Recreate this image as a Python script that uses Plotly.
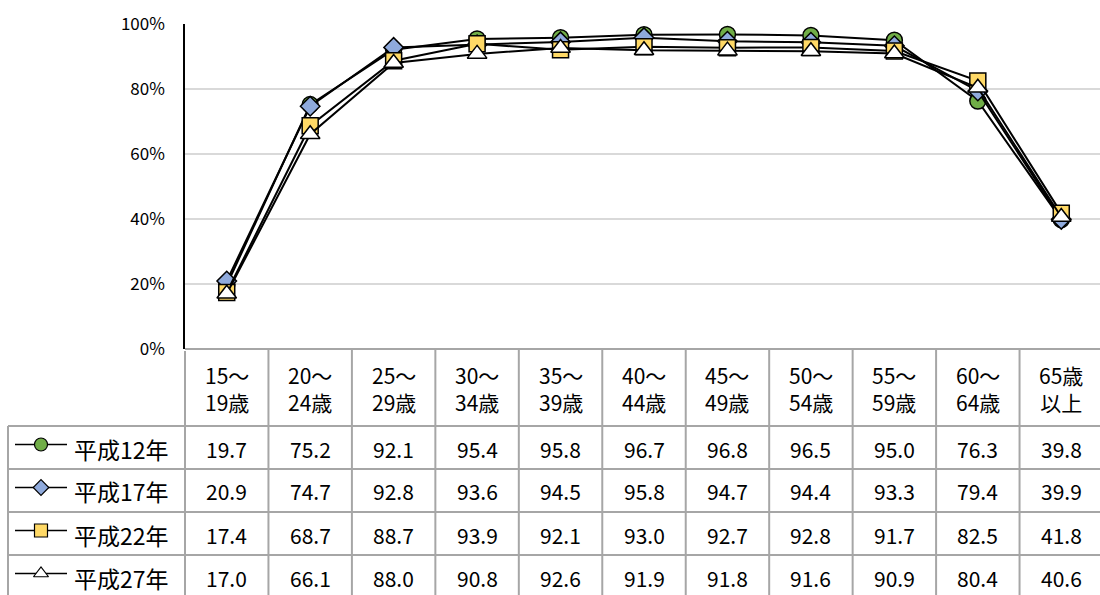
import plotly.graph_objects as go

# ---- data ----
categories = ["15～<br>19歳", "20～<br>24歳", "25～<br>29歳", "30～<br>34歳", "35～<br>39歳",
              "40～<br>44歳", "45～<br>49歳", "50～<br>54歳", "55～<br>59歳", "60～<br>64歳",
              "65歳<br>以上"]
series_names = ["平成12年", "平成17年", "平成22年", "平成27年"]
h12 = [19.7, 75.2, 92.1, 95.4, 95.8, 96.7, 96.8, 96.5, 95.0, 76.3, 39.8]
h17 = [20.9, 74.7, 92.8, 93.6, 94.5, 95.8, 94.7, 94.4, 93.3, 79.4, 39.9]
h22 = [17.4, 68.7, 88.7, 93.9, 92.1, 93.0, 92.7, 92.8, 91.7, 82.5, 41.8]
h27 = [17.0, 66.1, 88.0, 90.8, 92.6, 91.9, 91.8, 91.6, 90.9, 80.4, 40.6]
y_ticks = [0, 20, 40, 60, 80, 100]
y_ticktext = ["0%", "20%", "40%", "60%", "80%", "100%"]

series = [h12, h17, h22, h27]
symbols = ["circle", "diamond", "square", "triangle-up"]
fills = ["#70AD47", "#8FAADC", "#FFD966", "#FFFFFF"]
msizes = [16, 15, 16, 17]

W, H = 1100, 595
FONT = "Noto Sans CJK JP"
PLOT_L, PLOT_R = 185.0, 1103.0
PLOT_T, PLOT_B = 24.0, 349.0
COLW = (PLOT_R - PLOT_L) / len(categories)
ROW_TOP = 426.0
ROW_H = 43.0
TABLE_L = 8.0
GRAY = "#A6A6A6"


def px(x):
    return x / W


def py(y):
    return 1 - y / H


fig = go.Figure()

# main lines
for name, vals, sym, fc, ms in zip(series_names, series, symbols, fills, msizes):
    fig.add_trace(go.Scatter(
        x=list(range(len(categories))), y=vals, name=name, mode="lines+markers",
        line=dict(color="black", width=2),
        marker=dict(symbol=sym, size=ms, color=fc, line=dict(color="black", width=1.5)),
        cliponaxis=False, showlegend=False,
    ))

# legend icons in table (pixel overlay axes)
for r, (name, sym, fc) in enumerate(zip(series_names, symbols, fills)):
    yc = ROW_TOP + ROW_H * r + ROW_H / 2 - 3
    fig.add_trace(go.Scatter(
        x=[15, 67], y=[yc, yc], mode="lines", line=dict(color="black", width=1.5),
        xaxis="x2", yaxis="y2", showlegend=False, hoverinfo="skip"))
    fig.add_trace(go.Scatter(
        x=[41], y=[yc], mode="markers",
        marker=dict(symbol=sym, size=13 if sym != "diamond" else 12, color=fc,
                    line=dict(color="black", width=1.2)),
        xaxis="x2", yaxis="y2", showlegend=False, hoverinfo="skip"))
    fig.add_annotation(x=px(72), y=py(ROW_TOP + ROW_H * r + ROW_H / 2 + 1), xref="paper", yref="paper",
                       text=name, showarrow=False, xanchor="left", yanchor="middle",
                       font=dict(family=FONT, size=23, color="black"))

shapes = []
# horizontal table lines
shapes.append(dict(type="line", xref="paper", yref="paper", x0=px(PLOT_L), x1=px(PLOT_R),
                   y0=py(PLOT_B), y1=py(PLOT_B), line=dict(color=GRAY, width=2)))
for r in range(len(series) + 1):
    yy = ROW_TOP + ROW_H * r
    shapes.append(dict(type="line", xref="paper", yref="paper", x0=px(TABLE_L), x1=px(PLOT_R),
                       y0=py(yy), y1=py(yy), line=dict(color=GRAY, width=2)))
# vertical lines
shapes.append(dict(type="line", xref="paper", yref="paper", x0=px(TABLE_L), x1=px(TABLE_L),
                   y0=py(ROW_TOP), y1=py(H + 5), line=dict(color=GRAY, width=2)))
for c in range(len(categories) + 1):
    xx = PLOT_L + COLW * c
    shapes.append(dict(type="line", xref="paper", yref="paper", x0=px(xx), x1=px(xx),
                       y0=py(PLOT_B if c > 0 else PLOT_B + 2), y1=py(H + 5),
                       line=dict(color=GRAY, width=2)))
fig.update_layout(shapes=shapes)

# header text
for i, cat in enumerate(categories):
    fig.add_annotation(x=i, y=py((PLOT_B + ROW_TOP) / 2 + 1), xref="x", yref="paper", text=cat,
                       showarrow=False, xanchor="center", yanchor="middle",
                       font=dict(family=FONT, size=21, color="black"))
# values
for r, vals in enumerate(series):
    for i, v in enumerate(vals):
        fig.add_annotation(x=i, y=py(ROW_TOP + ROW_H * r + ROW_H / 2 + 1), xref="x", yref="paper",
                           text=f"{v:.1f}", showarrow=False, xanchor="center", yanchor="middle",
                           font=dict(family=FONT, size=21, color="black"))

fig.update_layout(
    width=W, height=H, margin=dict(l=0, r=0, t=0, b=0, autoexpand=False), autosize=False,
    paper_bgcolor="white", plot_bgcolor="rgba(0,0,0,0)", showlegend=False,
    xaxis=dict(domain=[px(PLOT_L), 1.0], range=[-0.5, -0.5 + (W - PLOT_L) / COLW], automargin=False,
               showticklabels=False, showgrid=False, zeroline=False, showline=False, fixedrange=True),
    yaxis=dict(domain=[py(PLOT_B), py(PLOT_T)], range=[0, 100], tickvals=y_ticks, ticktext=y_ticktext,
               automargin=False,
               showgrid=True, gridcolor="#D9D9D9", gridwidth=1.5, zeroline=False,
               showline=True, linecolor="black", linewidth=1.5,
               ticks="outside", ticklen=15, tickcolor="rgba(0,0,0,0)",
               tickfont=dict(family=FONT, size=17, color="black"), fixedrange=True),
    xaxis2=dict(domain=[0, 1], range=[0, W], visible=False, fixedrange=True, automargin=False),
    yaxis2=dict(domain=[0, 1], range=[H, 0], visible=False, fixedrange=True, automargin=False),
)

fig.write_html("out.html", config={"displayModeBar": False},
               post_script="document.body.style.margin='0';document.body.style.overflow='hidden';")
